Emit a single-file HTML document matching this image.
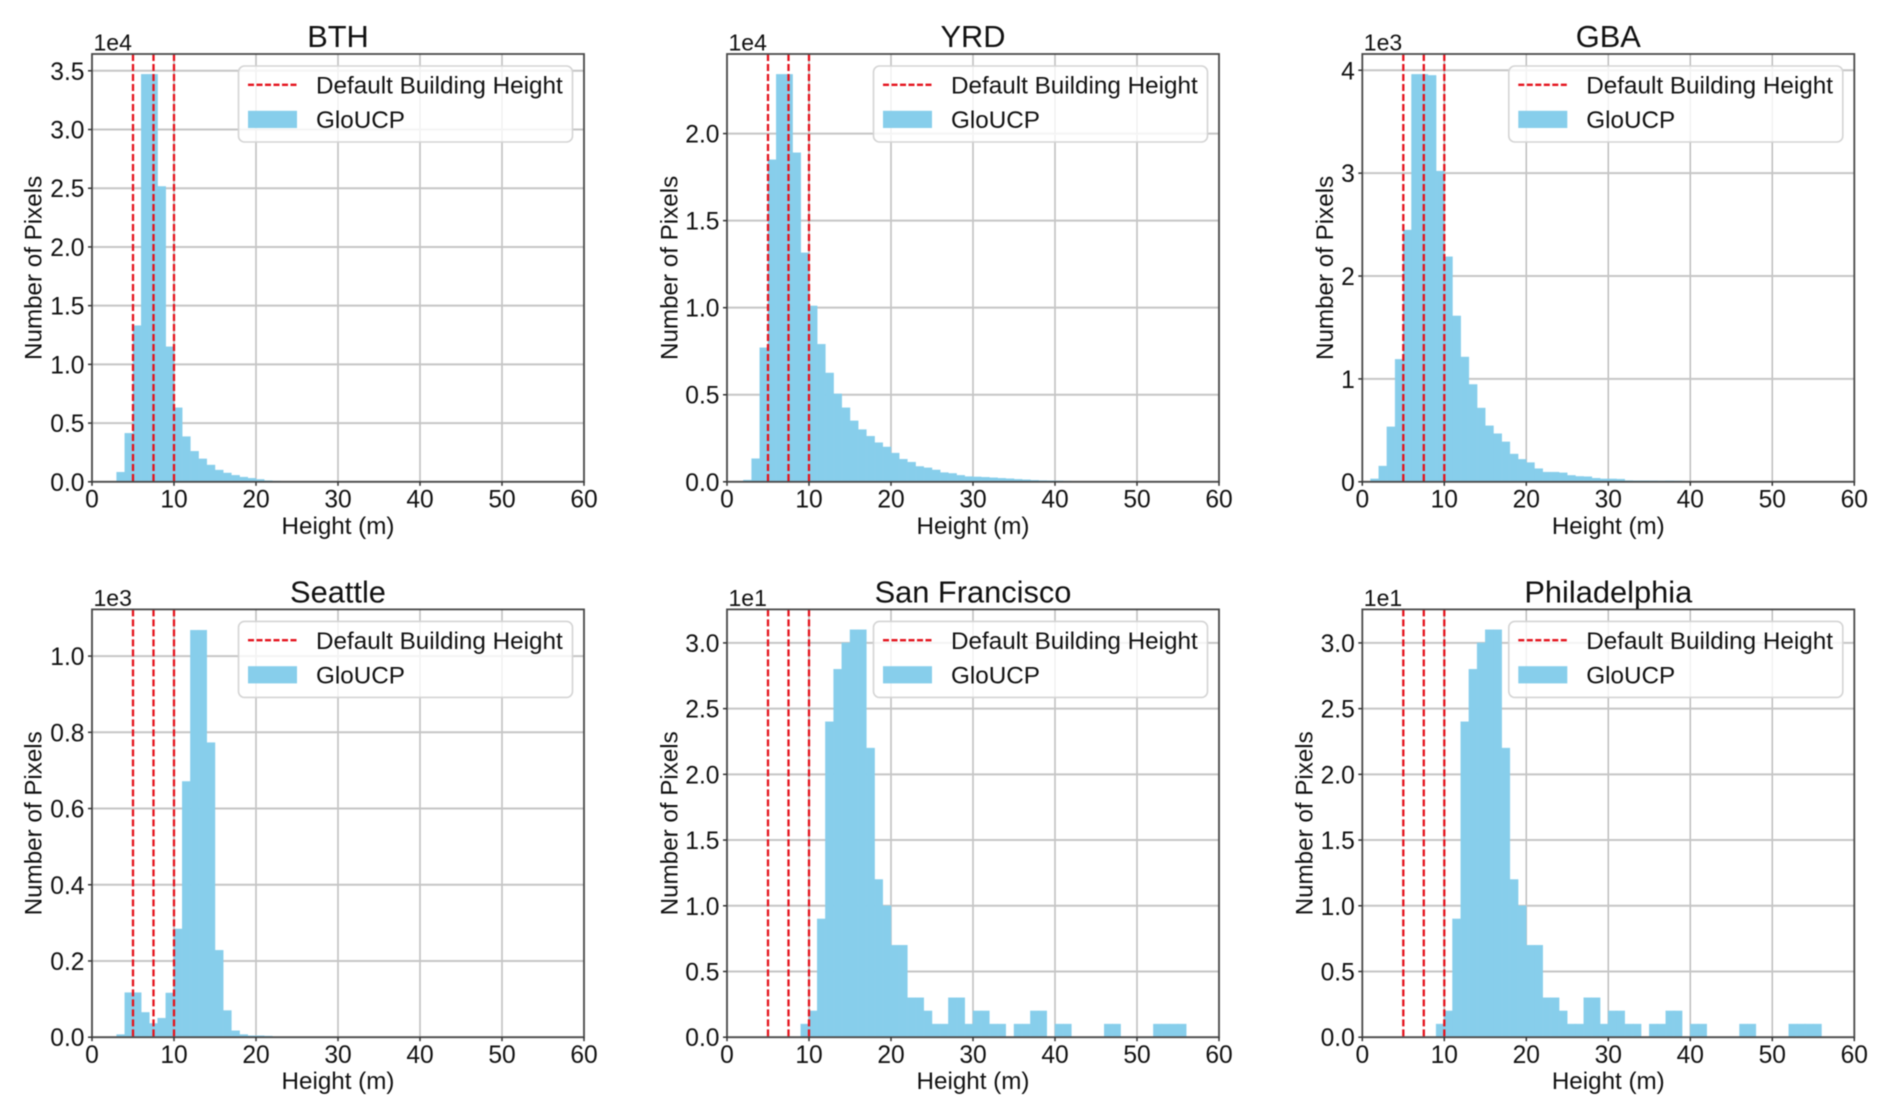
<!DOCTYPE html>
<html lang="en">
<head>
<meta charset="utf-8">
<title>Building height histograms</title>
<style>
html,body{margin:0;padding:0;background:#fff;}
body{width:1892px;height:1118px;overflow:hidden;}
#figure{display:block;filter:blur(0.45px);font-family:"Liberation Sans",Arial,sans-serif;fill:#111;}
</style>
</head>
<body>
<svg id="figure" xmlns="http://www.w3.org/2000/svg" width="1892" height="1118" viewBox="0 0 1892 1118"></svg>
<script>
// ---- chart data (counts in units of each panel's offset) ----
const panelTitles = ["BTH", "YRD", "GBA", "Seattle", "San Francisco", "Philadelphia"];
const offsetLabels = ["1e4", "1e4", "1e3", "1e3", "1e1", "1e1"];
const firstBinEdge = [3, 2, 1, 3, 9, 9];
const binWidth = 1;
const countsBTH = [0.082,0.413,1.33,3.47,3.47,2.515,1.15,0.63,0.385,0.26,0.195,0.143,0.10,0.075,0.055,0.04,0.03,0.02,0.01,0.006,0.004,0.002];
const countsYRD = [0.01,0.133,0.77,1.85,2.34,2.34,1.89,1.315,1.01,0.79,0.625,0.505,0.425,0.35,0.30,0.262,0.225,0.20,0.165,0.13,0.113,0.088,0.08,0.068,0.053,0.048,0.037,0.03,0.028,0.026,0.023,0.02,0.018,0.014,0.012,0.009,0.007,0.006,0.005,0.004,0.003,0.002,0.001];
const countsGBA = [0.028,0.153,0.534,1.19,2.447,3.96,3.96,3.95,3.02,2.187,1.612,1.213,0.946,0.717,0.544,0.468,0.388,0.27,0.218,0.187,0.128,0.094,0.094,0.087,0.062,0.052,0.05,0.035,0.028,0.028,0.026,0.012,0.01,0.01,0.009,0.008,0.009,0.008,0.006,0.005,0.003,0.002,0.003,0.005,0.004,0.002,0.001];
const countsSeattle = [0.007,0.117,0.117,0.065,0.036,0.05,0.116,0.284,0.671,1.068,1.068,0.773,0.228,0.07,0.017,0.007,0.004,0.004,0.003,0.001,0.001,0.001];
const countsSanFrancisco = [0.1,0.2,0.9,2.4,2.8,3.0,3.1,3.1,2.2,1.2,1.0,0.7,0.7,0.3,0.3,0.2,0.1,0.1,0.3,0.3,0.1,0.2,0.2,0.1,0.1,0,0.1,0.1,0.2,0.2,0,0.1,0.1,0,0,0,0,0.1,0.1,0,0,0,0,0.1,0.1,0.1,0.1];
const countsPhiladelphia = [0.1,0.2,0.9,2.4,2.8,3.0,3.1,3.1,2.2,1.2,1.0,0.7,0.7,0.3,0.3,0.2,0.1,0.1,0.3,0.3,0.1,0.2,0.2,0.1,0.1,0,0.1,0.1,0.2,0.2,0,0.1,0.1,0,0,0,0,0.1,0.1,0,0,0,0,0.1,0.1,0.1,0.1];
const panelCounts = [countsBTH, countsYRD, countsGBA, countsSeattle, countsSanFrancisco, countsPhiladelphia];
const yLimits = [3.643, 2.457, 4.158, 1.1225, 3.255, 3.255];
const yTicksBTH = ["0.0","0.5","1.0","1.5","2.0","2.5","3.0","3.5"];
const yTicksYRD = ["0.0","0.5","1.0","1.5","2.0"];
const yTicksGBA = ["0","1","2","3","4"];
const yTicksSeattle = ["0.0","0.2","0.4","0.6","0.8","1.0"];
const yTicksSanFrancisco = ["0.0","0.5","1.0","1.5","2.0","2.5","3.0"];
const yTicksPhiladelphia = ["0.0","0.5","1.0","1.5","2.0","2.5","3.0"];
const panelYTicks = [yTicksBTH, yTicksYRD, yTicksGBA, yTicksSeattle, yTicksSanFrancisco, yTicksPhiladelphia];
const xTicks = [0, 10, 20, 30, 40, 50, 60];
const xMax = 60;
const defaultHeights = [5, 7.5, 10];
const legendLabels = ["Default Building Height", "GloUCP"];
const xAxisTitle = "Height (m)";
const yAxisTitle = "Number of Pixels";

// ---- page layout ----
const columnLefts = [92, 727, 1362.3];
const rowTops = [54, 609.4];
const yLabelBaselines = [41.5, 677.5, 1333, 41.5, 677.5, 1312.5];
const plotWidth = 492;
const plotHeight = 427.8;

const SVG_NS = "http://www.w3.org/2000/svg";
const figure = document.getElementById("figure");

function add(parent, tag, attrs, text) {
  const el = document.createElementNS(SVG_NS, tag);
  for (const key in attrs) el.setAttribute(key, attrs[key]);
  if (text !== undefined) el.textContent = text;
  parent.appendChild(el);
  return el;
}

function drawPanel(i) {
  const left = columnLefts[i % 3];
  const top = rowTops[Math.floor(i / 3)];
  const bottom = top + plotHeight;
  const right = left + plotWidth;
  const xScale = v => left + (v / xMax) * plotWidth;
  const yScale = v => bottom - (v / yLimits[i]) * plotHeight;
  const slug = panelTitles[i].toLowerCase().replace(/\s+/g, "-");

  const panel = add(figure, "g", {});
  
  

  // grid
  xTicks.forEach(t => {
    const line = add(panel, "line", {x1: xScale(t), x2: xScale(t), y1: top, y2: bottom, stroke: "#bdbdbd", "stroke-width": 1.5});
    
    
  });
  panelYTicks[i].forEach(label => {
    const y = yScale(parseFloat(label));
    const line = add(panel, "line", {x1: left, x2: right, y1: y, y2: y, stroke: "#c6c6c6", "stroke-width": 2});
    
    
  });

  // histogram bars
  panelCounts[i].forEach((value, k) => {
    if (value <= 0) return;
    const edge = firstBinEdge[i] + k * binWidth;
    const bar = add(panel, "rect", {
      x: xScale(edge), y: yScale(value),
      width: xScale(edge + binWidth) - xScale(edge),
      height: bottom - yScale(value),
      fill: "#87ceeb", stroke: "#87ceeb", "stroke-width": 0.4
    });
    
    
  });

  // default height reference lines
  defaultHeights.forEach(h => {
    const line = add(panel, "line", {x1: xScale(h), x2: xScale(h), y1: top, y2: bottom, stroke: "#e4121c", "stroke-width": 2.3, "stroke-dasharray": "7 3"});
    
    
  });

  // spines
  const frame = add(panel, "rect", {x: left, y: top, width: plotWidth, height: plotHeight, fill: "none", stroke: "#4a4a4a", "stroke-width": 1.8});
  
  

  // x ticks
  xTicks.forEach(t => {
    const tick = add(panel, "line", {x1: xScale(t), x2: xScale(t), y1: bottom, y2: bottom + 4, stroke: "#333", "stroke-width": 1.5});
    
    
    const label = add(panel, "text", {x: xScale(t), y: bottom + 25.8, "text-anchor": "middle", "font-size": 24.6}, String(t));
    
    
  });

  // y ticks
  panelYTicks[i].forEach(text => {
    const y = yScale(parseFloat(text));
    const tick = add(panel, "line", {x1: left - 4, x2: left, y1: y, y2: y, stroke: "#333", "stroke-width": 1.5});
    
    
    const label = add(panel, "text", {x: left - 7.5, y: y + 9, "text-anchor": "end", "font-size": 24.6}, text);
    
    
  });

  // titles
  const title = add(panel, "text", {x: left + plotWidth / 2, y: top - 6.8, "text-anchor": "middle", "font-size": 30.8}, panelTitles[i]);
  
  

  const offset = add(panel, "text", {x: left + 1.5, y: top - 3.6, "font-size": 23}, offsetLabels[i]);
  
  

  const xTitle = add(panel, "text", {x: left + plotWidth / 2, y: bottom + 52, "text-anchor": "middle", "font-size": 24.2}, xAxisTitle);
  
  

  const yMid = top + plotHeight / 2;
  const yBase = yLabelBaselines[i];
  const yTitle = add(panel, "text", {x: yBase, y: yMid, "text-anchor": "middle", "font-size": 24.2, transform: "rotate(-90 " + yBase + " " + yMid + ")"}, yAxisTitle);
  
  

  // legend
  const legend = add(panel, "g", {});
  
  

  const legendBox = add(legend, "rect", {x: left + 146.5, y: top + 12, width: 334, height: 76, rx: 6, ry: 6, fill: "#fff", "fill-opacity": 0.8, stroke: "#d4d4d4", "stroke-width": 1.6});
  
  

  const lineKey = add(legend, "line", {x1: left + 156, x2: left + 205, y1: top + 30.8, y2: top + 30.8, stroke: "#e4121c", "stroke-width": 2.3, "stroke-dasharray": "6 2.5"});
  
  

  const lineLabel = add(legend, "text", {x: left + 224, y: top + 39.5, "font-size": 24.25}, legendLabels[0]);
  
  

  const patchKey = add(legend, "rect", {x: left + 156, y: top + 56.8, width: 49, height: 17.2, fill: "#87ceeb"});
  
  

  const patchLabel = add(legend, "text", {x: left + 224, y: top + 74, "font-size": 24.25}, legendLabels[1]);
  
  
}

panelTitles.forEach((_, i) => drawPanel(i));
</script>
</body>
</html>
